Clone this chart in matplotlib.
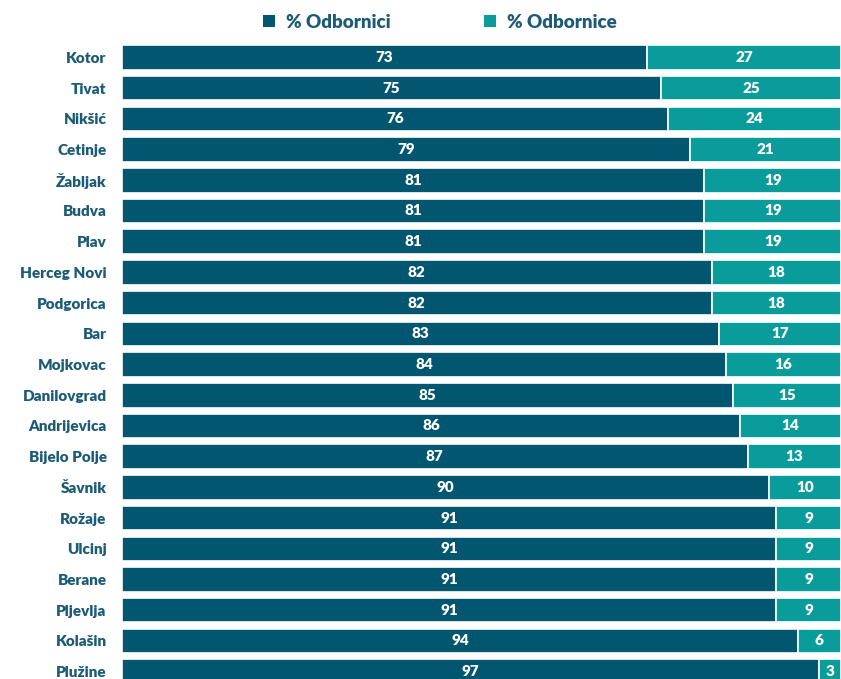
import matplotlib
matplotlib.use("Agg")
import matplotlib.pyplot as plt
from matplotlib.patches import Patch

cities = ["Kotor", "Tivat", "Nikšić", "Cetinje", "Žabljak", "Budva", "Plav",
          "Herceg Novi", "Podgorica", "Bar", "Mojkovac", "Danilovgrad",
          "Andrijevica", "Bijelo Polje", "Šavnik", "Rožaje", "Ulcinj",
          "Berane", "Pljevlja", "Kolašin", "Plužine"]
odbornici = [73, 75, 76, 79, 81, 81, 81, 82, 82, 83, 84, 85, 86, 87, 90, 91, 91, 91, 91, 94, 97]
odbornice = [27, 25, 24, 21, 19, 19, 19, 18, 18, 17, 16, 15, 14, 13, 10, 9, 9, 9, 9, 6, 3]
series_names = ["% Odbornici", "% Odbornice"]

c_dark = "#02566F"
c_teal = "#0A9C9B"
c_text = "#1B5B77"
font = ["Lato", "DejaVu Sans"]

fig = plt.figure(figsize=(8.41, 6.79), dpi=100)
ax = fig.add_axes([122/841, 0, 1 - 122/841, (679 - 43)/679])

y = list(range(len(cities)))
h = 0.8
ax.barh(y, odbornici, height=h, color=c_dark, edgecolor="white", linewidth=1.2)
ax.barh(y, odbornice, left=odbornici, height=h, color=c_teal, edgecolor="white", linewidth=1.2)

for i in y:
    ax.text(odbornici[i] / 2, i, str(odbornici[i]), ha="center", va="center",
            color="white", fontsize=11, fontweight="heavy", family=font)
    ax.text(odbornici[i] + odbornice[i] / 2, i, str(odbornice[i]), ha="center", va="center",
            color="white", fontsize=11, fontweight="heavy", family=font)

ax.set_xlim(0, 100)
ax.set_ylim(20.24, -0.47)
ax.set_yticks(y)
ax.set_yticklabels(cities, fontsize=11, fontweight="heavy", color=c_text, family=font)
ax.tick_params(axis="y", length=0, pad=11)
ax.set_xticks([])
for s in ax.spines.values():
    s.set_visible(False)

handles = [Patch(facecolor=c_dark), Patch(facecolor=c_teal)]
leg = fig.legend(handles, series_names, loc="center", bbox_to_anchor=(440/841, 1 - 22/679),
                 ncol=2, frameon=False, handlelength=0.6, handleheight=0.6,
                 columnspacing=5.0, handletextpad=0.6,
                 prop={"family": font, "weight": "heavy", "size": 13.5})
for t in leg.get_texts():
    t.set_color(c_text)

fig.savefig("out.png", dpi=100)
